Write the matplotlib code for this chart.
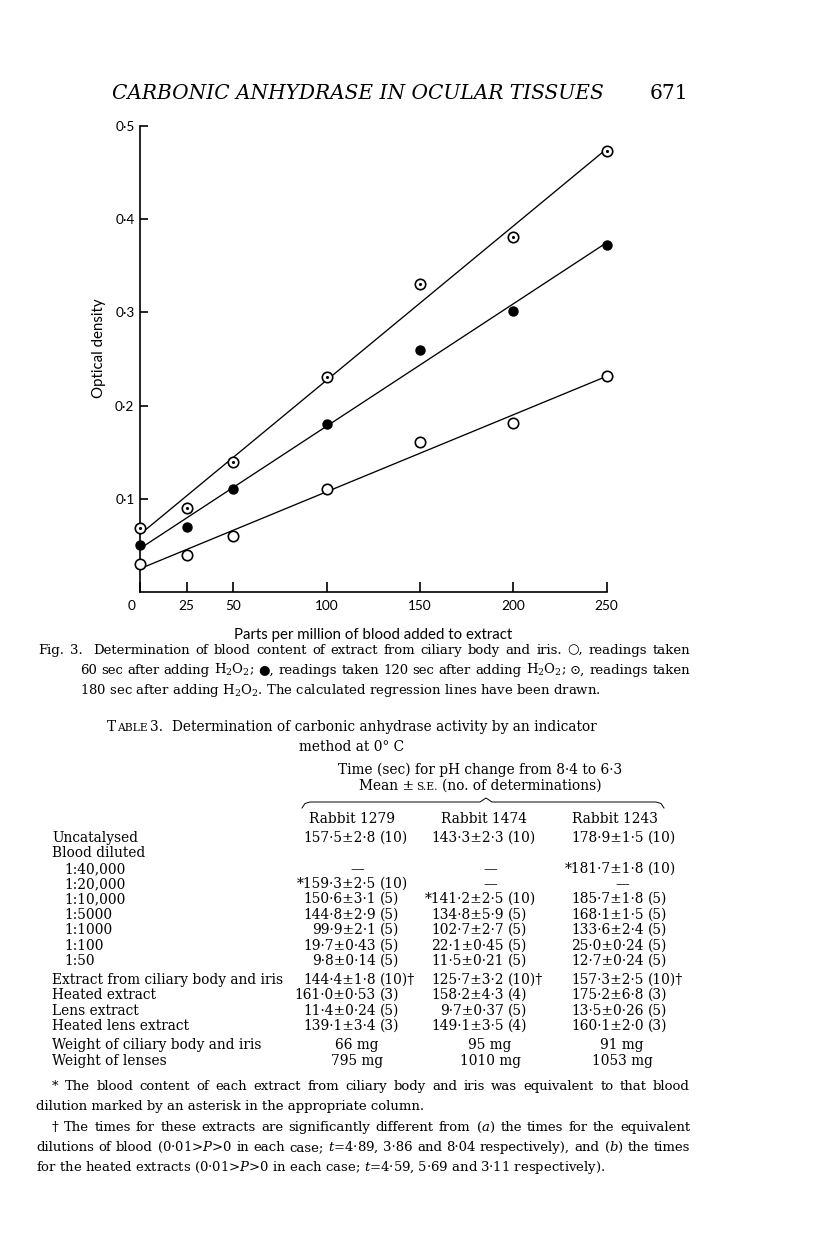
import numpy as np
import matplotlib
matplotlib.use('Agg')
import matplotlib.pyplot as plt
from matplotlib.transforms import ScaledTranslation

plt.rcParams['font.family'] = ['DejaVu Serif', 'DejaVu Sans']
plt.rcParams['mathtext.fontset'] = 'dejavuserif'

W, H = 816, 1258

# ---- figure 3 data ----
ppm = [0, 25, 50, 100, 150, 200, 250]
od_60s = [0.030, 0.040, 0.060, 0.111, 0.161, 0.181, 0.232]
od_120s = [0.050, 0.070, 0.111, 0.180, 0.260, 0.301, 0.372]
od_180s = [0.069, 0.090, 0.140, 0.231, 0.331, 0.381, 0.473]
x_ticks = [0, 25, 50, 100, 150, 200, 250]
y_ticks = [0.1, 0.2, 0.3, 0.4, 0.5]
y_tick_labels = ['0·1', '0·2', '0·3', '0·4', '0·5']

# ---- table 3 ----
rabbits = ['Rabbit 1279', 'Rabbit 1474', 'Rabbit 1243']
row_labels = ['Uncatalysed', 'Blood diluted', '1:40,000', '1:20,000', '1:10,000',
              '1:5000', '1:1000', '1:100', '1:50',
              'Extract from ciliary body and iris', 'Heated extract', 'Lens extract',
              'Heated lens extract', 'Weight of ciliary body and iris', 'Weight of lenses']
indented = [False, False, True, True, True, True, True, True, True,
            False, False, False, False, False, False]
col_1279 = ['157·5±2·8 (10)', '', '—', '*159·3±2·5 (10)', '150·6±3·1 (5)', '144·8±2·9 (5)',
            '99·9±2·1 (5)', '19·7±0·43 (5)', '9·8±0·14 (5)', '144·4±1·8 (10)†',
            '161·0±0·53 (3)', '11·4±0·24 (5)', '139·1±3·4 (3)', '66 mg', '795 mg']
col_1474 = ['143·3±2·3 (10)', '', '—', '—', '*141·2±2·5 (10)', '134·8±5·9 (5)',
            '102·7±2·7 (5)', '22·1±0·45 (5)', '11·5±0·21 (5)', '125·7±3·2 (10)†',
            '158·2±4·3 (4)', '9·7±0·37 (5)', '149·1±3·5 (4)', '95 mg', '1010 mg']
col_1243 = ['178·9±1·5 (10)', '', '*181·7±1·8 (10)', '—', '185·7±1·8 (5)', '168·1±1·5 (5)',
            '133·6±2·4 (5)', '25·0±0·24 (5)', '12·7±0·24 (5)', '157·3±2·5 (10)†',
            '175·2±6·8 (3)', '13·5±0·26 (5)', '160·1±2·0 (3)', '91 mg', '1053 mg']

# layout (page pixels)
row_y = [838, 853, 869, 884, 899, 915, 930, 946, 961, 980, 995, 1011, 1026, 1045, 1061]
col_right = [376, 504, 644]
col_paren = [380, 508, 648]
col_center = [357, 490, 622]
head_center = [352, 484, 615]
FS = 9.9      # table text
FSC = 9.5     # caption / footnotes
BL = 3.8

fig = plt.figure(figsize=(W / 100, H / 100), dpi=100)
pg = fig.add_axes([0, 0, 1, 1])
pg.set_xlim(0, W)
pg.set_ylim(H, 0)
pg.axis('off')
ren = fig.canvas.get_renderer()


def wid(t):
    return t.get_window_extent(ren).width


def justify(s, x0, x1, yc, size=FSC):
    words = s.split(' ')
    ts = [pg.text(0, yc + BL, w, fontsize=size, va='baseline') for w in words]
    ws = [wid(t) for t in ts]
    gap = (x1 - x0 - sum(ws)) / (len(ws) - 1)
    x = x0
    for t, w in zip(ts, ws):
        t.set_x(x)
        x += w + gap


def runs(parts, cx, yc):
    placed = []
    x = 0
    for s, size, gap in parts:
        x += gap
        t = pg.text(x, yc + BL, s, fontsize=size, va='baseline')
        placed.append((t, x))
        x += wid(t)
    shift = cx - x / 2
    for t, xx in placed:
        t.set_x(xx + shift)


# running head
hd = pg.text(112, 99, 'CARBONIC ANHYDRASE IN OCULAR TISSUES', fontsize=12,
             fontstyle='italic', va='baseline')
hd.set_fontsize(12 * 492 / wid(hd))
pg.text(688, 99, '671', fontsize=hd.get_fontsize(), ha='right', va='baseline')

# ---- chart ----
x0p, x1p, y0p, y1p = 140, 606.7, 592, 126
ax = fig.add_axes([x0p / W, 1 - y0p / H, (x1p - x0p) / W, (y0p - y1p) / H])
ax.patch.set_alpha(0)
ax.set_xlim(0, 250)
ax.set_ylim(0, 0.5)
for s in ['top', 'right']:
    ax.spines[s].set_visible(False)
for s in ['left', 'bottom']:
    ax.spines[s].set_linewidth(1.2)

for ys in [od_60s, od_120s, od_180s]:
    k, b = np.polyfit(ppm, ys, 1)
    xs = np.array([ppm[0], ppm[-1]])
    ax.plot(xs, k * xs + b, color='black', lw=0.95, clip_on=False, zorder=2)

ax.plot(ppm, od_60s, 'o', ms=7.5, mfc='white', mec='black', mew=1.2, clip_on=False, zorder=3)
ax.plot(ppm, od_120s, 'o', ms=6.5, color='black', clip_on=False, zorder=3)
ax.plot(ppm, od_180s, 'o', ms=7.5, mfc='white', mec='black', mew=1.2, clip_on=False, zorder=3)
ax.plot(ppm, od_180s, '.', ms=2.5, color='black', clip_on=False, zorder=4)

ax.set_xticks(x_ticks, labels=[str(v) for v in x_ticks], fontfamily='Lato', fontsize=9.8)
ax.set_yticks(y_ticks, labels=y_tick_labels, fontfamily='Lato', fontsize=9.8)
ax.tick_params(axis='x', direction='in', length=7, width=1.2, pad=6)
ax.tick_params(axis='y', direction='in', length=5.5, width=1.2, pad=4)
lbl0 = ax.get_xticklabels()[0]
lbl0.set_transform(lbl0.get_transform() + ScaledTranslation(-0.08, 0, fig.dpi_scale_trans))

ax.set_xlabel('Parts per million of blood added to extract', fontfamily='Lato', fontsize=10.8)
ax.xaxis.set_label_coords(0.5, -(628 - y0p) / (y0p - y1p))
ax.set_ylabel('Optical density', fontfamily='Lato', fontsize=10.8)
ax.yaxis.set_label_coords(-(x0p - 106) / (x1p - x0p), (y0p - 348) / (y0p - y1p))

# ---- caption ----
justify('Fig. 3.  Determination of blood content of extract from ciliary body and iris. ○, readings taken',
        38, 690, 650)
justify('60 sec after adding H$_2$O$_2$; ●, readings taken 120 sec after adding H$_2$O$_2$; ⊙, readings taken',
        80, 690, 670)
pg.text(80, 690 + BL, '180 sec after adding H$_2$O$_2$. The calculated regression lines have been drawn.',
        fontsize=FSC, va='baseline')

# ---- table ----
runs([('T', FS, 0), ('ABLE', FS * 0.78, 0.5), ('3.', FS, 3),
      ('Determination of carbonic anhydrase activity by an indicator', FS, 9)], 352, 727)
runs([('method at 0° C', FS, 0)], 352, 747)
runs([('Time (sec) for pH change from 8·4 to 6·3', FS, 0)], 480, 770)
runs([('Mean ±', FS, 0), ('S.E.', FS * 0.78, 2), ('(no. of determinations)', FS, 4)], 480, 786)

# brace over the three rabbit columns
bl, br, bc, by = 302, 664, 486, 802
pg.plot([bl, bl + 3, bl + 8, bc - 6, bc, bc + 6, br - 8, br - 3, br],
        [by + 6, by + 1.5, by, by, by - 4, by, by, by + 1.5, by + 6],
        color='black', lw=0.7)

for name, cx in zip(rabbits, head_center):
    pg.text(cx, 819 + BL, name, fontsize=FS, ha='center', va='baseline')

for lab, ind, y in zip(row_labels, indented, row_y):
    pg.text(64 if ind else 52, y + BL, lab, fontsize=FS, va='baseline')

for col, xr, xp, xc in zip([col_1279, col_1474, col_1243], col_right, col_paren, col_center):
    for s, y in zip(col, row_y):
        if not s:
            continue
        if ' (' in s:
            val, n = s.split(' ', 1)
            pg.text(xr, y + BL, val, fontsize=FS, ha='right', va='baseline')
            pg.text(xp, y + BL, n, fontsize=FS, ha='left', va='baseline')
        else:
            pg.text(xc, y + BL, s, fontsize=FS, ha='center', va='baseline')

# ---- footnotes ----
justify('* The blood content of each extract from ciliary body and iris was equivalent to that blood',
        52, 690, 1086)
pg.text(36, 1106 + BL, 'dilution marked by an asterisk in the appropriate column.', fontsize=FSC, va='baseline')
justify('† The times for these extracts are significantly different from ($a$) the times for the equivalent',
        52, 690, 1127)
justify('dilutions of blood (0·01>$P$>0 in each case; $t$=4·89, 3·86 and 8·04 respectively), and ($b$) the times',
        36, 690, 1147)
pg.text(36, 1167 + BL, 'for the heated extracts (0·01>$P$>0 in each case; $t$=4·59, 5·69 and 3·11 respectively).',
        fontsize=FSC, va='baseline')

fig.savefig('out.png', dpi=100)
